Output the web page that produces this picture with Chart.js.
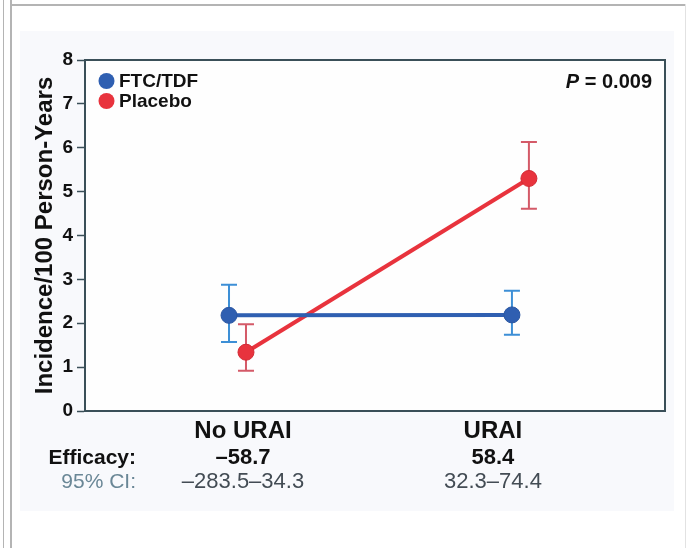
<!DOCTYPE html>
<html><head><meta charset="utf-8">
<script src="https://cdn.jsdelivr.net/npm/chart.js@4.4.1/dist/chart.umd.min.js"></script>
<style>
html,body{margin:0;padding:0;background:#fff;}
#wrap{position:relative;width:686px;height:548px;overflow:hidden;background:#fff;}
.vl{position:absolute;top:0;bottom:0;width:1.5px;background:#b4b4b4;}
#panel{position:absolute;left:20px;top:31px;width:654px;height:480px;background:#f8f9fc;}
canvas{position:absolute;left:0;top:0;}
</style></head><body>
<div id="wrap">
<div class="vl" style="left:2.5px"></div>
<div class="vl" style="left:10px"></div>
<div style="position:absolute;left:10px;right:0;top:4px;height:1.5px;background:#b4b4b4"></div>
<div style="position:absolute;right:0;top:4px;bottom:0;width:1px;background:#e2e2e2"></div>
<div id="panel"></div>
<canvas id="c" width="686" height="548"></canvas>
</div>
<script>
// ---- data ----
const categories = ['No URAI', 'URAI'];
const efficacyLabels = ['\u201358.7', '58.4'];
const ciLabels = ['\u2013283.5\u201334.3', '32.3\u201374.4'];
const ftcMean = [2.18, 2.19];
const ftcLow = [1.57, 1.74];
const ftcHigh = [2.88, 2.74];
const placeboMean = [1.34, 5.30];
const placeboLow = [0.92, 4.61];
const placeboHigh = [1.98, 6.13];
const yTicks = [0, 1, 2, 3, 4, 5, 6, 7, 8];
const seriesNames = ['FTC/TDF', 'Placebo'];
const pValueText = ['P', ' = 0.009'];

// ---- style ----
const FONT = '"Liberation Sans", Arial, Helvetica, sans-serif';
const BLUE = '#2f5fb1', BLUE_ERR = '#3d8fd6';
const RED = '#e8333d', RED_ERR = '#d45a68';
const FRAME = '#3a4f58';
const DODGE = 0.03;
const LABEL_NUDGE = [5.5, -27.5];

const decor = {
  id: 'decor',
  beforeDraw(chart) {
    const {ctx, chartArea: a} = chart;
    ctx.save();
    ctx.fillStyle = '#fefefe';
    ctx.fillRect(a.left, a.top, a.right - a.left, a.bottom - a.top);
    ctx.restore();
  },
  beforeDatasetsDraw(chart) {
    const {ctx} = chart;
    const ys = chart.scales.y;
    chart.data.datasets.forEach((ds, di) => {
      const meta = chart.getDatasetMeta(di);
      ctx.save();
      ctx.strokeStyle = ds.errColor;
      ctx.lineWidth = 2;
      meta.data.forEach((pt, i) => {
        const x = pt.x;
        const yl = ys.getPixelForValue(ds.errLow[i]);
        const yh = ys.getPixelForValue(ds.errHigh[i]);
        ctx.beginPath();
        ctx.moveTo(x, yl); ctx.lineTo(x, yh);
        ctx.moveTo(x - 8, yl); ctx.lineTo(x + 8, yl);
        ctx.moveTo(x - 8, yh); ctx.lineTo(x + 8, yh);
        ctx.stroke();
      });
      ctx.restore();
    });
  },
  afterDraw(chart) {
    const {ctx, chartArea: a} = chart;
    const xs = chart.scales.x;
    ctx.save();
    // frame
    ctx.strokeStyle = FRAME;
    ctx.lineWidth = 2;
    ctx.strokeRect(a.left, a.top, a.right - a.left, a.bottom - a.top);
    // legend
    ctx.textBaseline = 'middle';
    ctx.textAlign = 'left';
    ctx.font = 'bold 19px ' + FONT;
    chart.data.datasets.forEach((ds, i) => {
      const y = a.top + 21 + i * 20;
      ctx.fillStyle = ds.backgroundColor;
      ctx.beginPath();
      ctx.arc(a.left + 21.5, y, 8, 0, Math.PI * 2);
      ctx.fill();
      ctx.fillStyle = '#111';
      ctx.fillText(ds.label, a.left + 34, y + 1);
    });
    // P value
    ctx.textAlign = 'right';
    ctx.font = 'bold 20px ' + FONT;
    const rx = a.right - 13;
    ctx.fillText(pValueText[1], rx, a.top + 22);
    const w = ctx.measureText(pValueText[1]).width;
    ctx.font = 'italic bold 20px ' + FONT;
    ctx.fillText(pValueText[0], rx - w, a.top + 22);
    // bottom rows
    ctx.textAlign = 'center';
    categories.forEach((c, i) => {
      const x = xs.getPixelForValue(i) + LABEL_NUDGE[i];
      ctx.fillStyle = '#111';
      ctx.font = 'bold 24px ' + FONT;
      ctx.fillText(c, x, a.bottom + 20);
      ctx.font = 'bold 22px ' + FONT;
      ctx.fillText(efficacyLabels[i], x, a.bottom + 47);
      ctx.fillStyle = '#434c54';
      ctx.font = '22px ' + FONT;
      ctx.fillText(ciLabels[i], x, a.bottom + 71);
    });
    ctx.textAlign = 'right';
    ctx.fillStyle = '#111';
    ctx.font = 'bold 21px ' + FONT;
    ctx.fillText('Efficacy:', 136, a.bottom + 47);
    ctx.fillStyle = '#6a8796';
    ctx.font = '21px ' + FONT;
    ctx.fillText('95% CI:', 136, a.bottom + 71);
    ctx.restore();
  }
};

const mk = (mean) => categories.map((c, i) => ({x: i, y: mean[i]}));
const ftcData = mk(ftcMean).map(p => ({x: p.x - DODGE, y: p.y}));
const placeboData = mk(placeboMean).map(p => ({x: p.x + DODGE, y: p.y}));

new Chart(document.getElementById('c'), {
  type: 'line',
  data: {
    datasets: [
      {label: seriesNames[0], data: ftcData, borderColor: BLUE, backgroundColor: BLUE,
       borderWidth: 4, pointRadius: 8, pointBorderWidth: 1, pointBorderColor: '#2a56a2',
       pointBackgroundColor: BLUE, errLow: ftcLow, errHigh: ftcHigh, errColor: BLUE_ERR},
      {label: seriesNames[1], data: placeboData, borderColor: RED, backgroundColor: RED,
       borderWidth: 4, pointRadius: 8, pointBorderWidth: 1, pointBorderColor: '#d42a34',
       pointBackgroundColor: RED, errLow: placeboLow, errHigh: placeboHigh, errColor: RED_ERR}
    ]
  },
  options: {
    responsive: false, animation: false, devicePixelRatio: 1,
    layout: {padding: {left: 0, top: 60, right: 21, bottom: 137}},
    plugins: {legend: {display: false}, tooltip: {enabled: false}},
    scales: {
      x: {type: 'linear', min: -0.539, max: 1.511, display: false},
      y: {
        min: yTicks[0], max: yTicks[yTicks.length - 1],
        afterBuildTicks: (s) => { s.ticks = yTicks.map(v => ({value: v})); },
        afterFit: (s) => { s.width = 85; },
        ticks: {font: {family: FONT, size: 19, weight: 'bold'}, color: '#111', padding: 4},
        grid: {drawOnChartArea: false, drawTicks: true, tickLength: 8, tickColor: FRAME, tickWidth: 1.5},
        border: {display: true, color: FRAME, width: 2},
        title: {display: true, text: 'Incidence/100 Person-Years', color: '#111',
                font: {family: FONT, size: 24, weight: 'bold'}, padding: {top: 31, bottom: 0}}
      }
    }
  },
  plugins: [decor]
});
</script>
</body></html>
